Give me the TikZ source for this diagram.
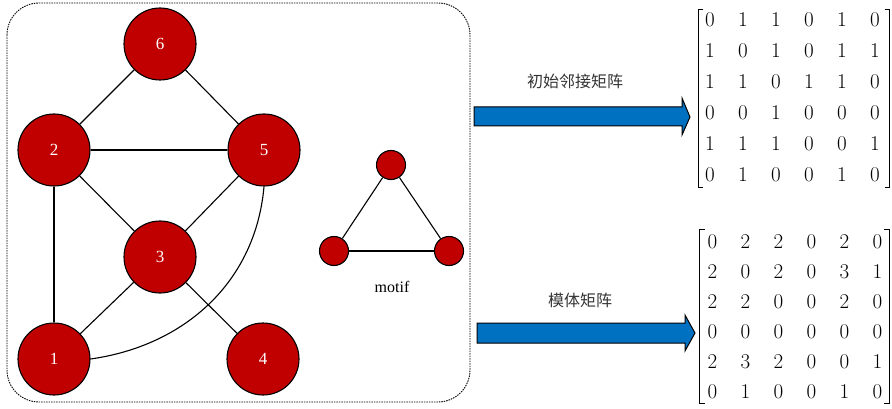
\documentclass[tikz,border=0pt]{standalone}
\usepackage{fontspec}
\setmainfont{Liberation Serif}
\newfontfamily\cjk{Noto Sans CJK SC}
\newfontfamily\lmfont{Latin Modern Roman}
\usetikzlibrary{matrix}
\definecolor{nodered}{HTML}{C00000}
\definecolor{arrowblue}{HTML}{0070C0}
\tikzset{
  vtx/.style={circle, draw=black, line width=1.1pt, fill=nodered, minimum size=72pt, inner sep=0pt, text=white, font=\fontsize{17}{17}\selectfont},
  mvtx/.style={circle, draw=black, line width=1.1pt, fill=nodered, minimum size=29pt, inner sep=0pt},
  edge/.style={line width=1.1pt, black},
  bigarrow/.style={draw=black, line width=1pt, fill=arrowblue},
  mat/.style={matrix of nodes, row sep=0pt, column sep=0pt, inner sep=0pt,
    nodes={minimum width=33pt, inner sep=0pt, anchor=center, font=\lmfont\fontsize{21}{21}\selectfont}},
  bracket/.style={line width=1.2pt, black},
  lab/.style={font=\cjk\fontsize{16}{16}\selectfont, text=black!80}
}
\begin{document}
\begin{tikzpicture}[x=1pt, y=-1pt]
\useasboundingbox (0,0) rectangle (892,409);
% dashed frame
\draw[line width=0.9pt, dash pattern=on 1.5pt off 1pt, rounded corners=32pt] (7,3) rectangle (470,402);
% graph nodes
\node[vtx] (n6) at (160,44) {6};
\node[vtx] (n2) at (54,150) {2};
\node[vtx] (n5) at (264,150) {5};
\node[vtx] (n3) at (160,257) {3};
\node[vtx] (n1) at (54,359) {1};
\node[vtx] (n4) at (263,359) {4};
% edges
\draw[edge] (n6) -- (n2);
\draw[edge] (n6) -- (n5);
\draw[edge] (n2) -- (n5);
\draw[edge] (n2) -- (n3);
\draw[edge] (n5) -- (n3);
\draw[edge] (n2) -- (n1);
\draw[edge] (n1) -- (n3);
\draw[edge] (n3) -- (n4);
\draw[edge] (n1.east) to[out=8, in=-95] (n5.south);
% motif
\node[mvtx] (mt) at (391,165) {};
\node[mvtx] (ml) at (334,251) {};
\node[mvtx] (mr) at (449,251) {};
\draw[edge] (mt) -- (ml);
\draw[edge] (mt) -- (mr);
\draw[edge] (ml) -- (mr);
\node[font=\fontsize{16}{16}\selectfont] (motif) at (392,287) {motif};
% arrows
\draw[bigarrow] (474,107) -- (682,107) -- (682,98) -- (690,117) -- (682,135) -- (682,126) -- (474,126) -- cycle;
\draw[bigarrow] (477,323) -- (685,323) -- (685,315) -- (695,333) -- (685,351) -- (685,343) -- (477,343) -- cycle;
\node[lab] (l1) at (575,81) {初始邻接矩阵};
\node[lab] (l2) at (580,300) {模体矩阵};
% matrices
\matrix[mat, nodes={minimum height=31pt}] (A) at (792.5,97.5) {
0 & 1 & 1 & 0 & 1 & 0\\
1 & 0 & 1 & 0 & 1 & 1\\
1 & 1 & 0 & 1 & 1 & 0\\
0 & 0 & 1 & 0 & 0 & 0\\
1 & 1 & 1 & 0 & 0 & 1\\
0 & 1 & 0 & 0 & 1 & 0\\
};
\draw[bracket] ([xshift=10pt,yshift=-5pt]A.north west) -- ++(-5,0) |- ([xshift=10pt,yshift=3pt]A.south west);
\draw[bracket] ([xshift=-7pt,yshift=-5pt]A.north east) -- ++(5,0) |- ([xshift=-7pt,yshift=3pt]A.south east);
\matrix[mat, nodes={minimum height=30pt}] (B) at (795,317) {
0 & 2 & 2 & 0 & 2 & 0\\
2 & 0 & 2 & 0 & 3 & 1\\
2 & 2 & 0 & 0 & 2 & 0\\
0 & 0 & 0 & 0 & 0 & 0\\
2 & 3 & 2 & 0 & 0 & 1\\
0 & 1 & 0 & 0 & 1 & 0\\
};
\draw[bracket] ([xshift=9pt,yshift=-3pt]B.north west) -- ++(-5,0) |- ([xshift=9pt,yshift=4pt]B.south west);
\draw[bracket] ([xshift=-10pt,yshift=-3pt]B.north east) -- ++(5,0) |- ([xshift=-10pt,yshift=4pt]B.south east);
\end{tikzpicture}
\end{document}
